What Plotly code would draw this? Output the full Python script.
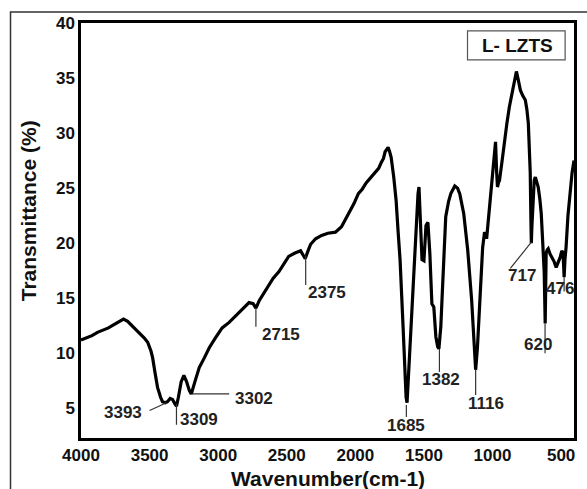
import plotly.graph_objects as go

# Spectrum (wavenumber cm-1, transmittance %)
wavenumber = [4000, 3960, 3920, 3880, 3840, 3800, 3760, 3720, 3690, 3660, 3623, 3580, 3540, 3514,
              3490, 3478, 3460, 3442, 3420, 3406, 3385, 3370, 3350, 3333, 3315, 3304, 3290, 3270,
              3250, 3230, 3210, 3196, 3170, 3138, 3100, 3065, 3020, 2971, 2920, 2870, 2820, 2775,
              2745, 2725, 2700, 2652, 2600, 2558, 2520, 2486, 2440, 2399, 2380, 2365, 2345, 2326,
              2290, 2246, 2200, 2145, 2101, 2070, 2036, 2010, 1978, 1950, 1920, 1890, 1855, 1830,
              1812, 1795, 1783, 1770, 1761, 1750, 1739, 1720, 1703, 1688, 1674, 1652, 1640, 1630,
              1623, 1615, 1594, 1580, 1565, 1551, 1543, 1536, 1529, 1521, 1514, 1500, 1492, 1485,
              1471, 1464, 1457, 1442, 1428, 1413, 1400, 1391, 1377, 1366, 1355, 1341, 1320, 1304,
              1275, 1255, 1239, 1210, 1181, 1152, 1130, 1123, 1110, 1094, 1072, 1058, 1050, 1043,
              1022, 1000, 990, 978, 970, 964, 956, 949, 930, 913, 895, 877, 860, 841, 833, 826,
              815, 797, 780, 761, 750, 739, 730, 725, 720, 717, 713, 710, 703, 696, 688, 677, 667,
              655, 645, 635, 623, 616, 612, 609, 601, 594, 580, 565, 550, 536, 520, 507, 495, 486,
              481, 478, 472, 464, 450, 435, 420, 406]
transmittance = [11.2, 11.4, 11.6, 11.9, 12.1, 12.3, 12.6, 12.9, 13.1, 12.9, 12.4, 11.9, 11.4, 11.0,
                 10.2, 9.6, 8.2, 6.9, 6.0, 5.6, 5.5, 5.6, 5.9, 5.8, 5.4, 5.2, 6.0, 7.4,
                 8.0, 7.4, 6.6, 6.3, 7.4, 8.7, 9.6, 10.5, 11.4, 12.3, 12.8, 13.4, 14.0, 14.6,
                 14.5, 14.1, 14.8, 15.7, 16.8, 17.4, 18.1, 18.8, 19.1, 19.3, 18.9, 18.6, 19.3, 19.9,
                 20.4, 20.7, 20.9, 21.0, 21.5, 22.2, 23.0, 23.6, 24.5, 24.9, 25.5, 25.9, 26.4, 26.8,
                 27.3, 27.7, 28.3, 28.6, 28.7, 28.3, 27.8, 26.0, 23.9, 21.0, 18.5, 12.4, 8.5, 6.0,
                 5.5, 7.5, 12.4, 16.0, 19.6, 23.4, 24.5, 25.1, 22.4, 20.0, 18.5, 18.4, 20.0, 21.6,
                 21.9, 20.8, 19.1, 14.5, 14.2, 11.5, 10.6, 10.4, 12.4, 15.5, 18.5, 22.4, 23.8, 24.5,
                 25.2, 25.0, 24.5, 22.7, 19.4, 14.8, 10.0, 8.5, 10.5, 14.2, 19.6, 21.0, 20.8, 20.4,
                 23.3, 26.4, 27.5, 29.2, 26.5, 25.1, 25.5, 25.7, 27.5, 29.4, 30.9, 32.4, 33.6, 34.8, 35.3, 35.6,
                 35.0, 33.9, 33.4, 33.0, 32.2, 30.9, 28.0, 26.4, 22.0, 20.0, 21.5, 22.4, 24.5, 25.7, 26.0, 25.6, 25.1,
                 24.0, 22.7, 20.3, 17.3, 12.7, 16.0, 19.1, 19.4, 19.5, 19.0, 18.7, 18.3, 17.8, 18.3, 18.7, 19.3, 19.1,
                 17.8, 16.9, 18.5, 19.6, 22.5, 24.8, 26.4, 27.5]

# Peak labels: text, leader line (x0, y0, x1, y1), label position (x, y)
peak_text = ["3393", "3309", "3302", "2715", "2375", "1685", "1382", "1116", "717", "620", "476"]
leader_lines = [(3500, 4.8, 3377, 5.5), (3304, 5.4, 3304, 3.5), (3188, 6.3, 2920, 6.3),
                (2725, 14.1, 2725, 12.4), (2362, 18.9, 2362, 16.2), (1628, 5.3, 1628, 4.2),
                (1387, 10.4, 1387, 8.3), (1123, 8.5, 1123, 6.2), (717, 20.1, 870, 17.7),
                (617, 12.7, 617, 10.0), (478, 16.9, 478, 15.6)]
label_pos = [(3696, 4.6), (3138, 4.0), (2739, 5.9), (2543, 11.7), (2210, 15.5), (1628, 3.4),
             (1373, 7.6), (1051, 5.4), (783, 17.1), (672, 10.8), (505, 15.9)]

FONT = "Liberation Sans, Arial, sans-serif"

fig = go.Figure()
fig.add_trace(go.Scatter(x=wavenumber, y=transmittance, mode="lines",
                         line=dict(color="black", width=3.2), showlegend=False))

for (x0, y0, x1, y1) in leader_lines:
    fig.add_shape(type="line", xref="x", yref="y", x0=x0, y0=y0, x1=x1, y1=y1,
                  line=dict(color="#333333", width=1.2))
for t, (lx, ly) in zip(peak_text, label_pos):
    fig.add_annotation(x=lx, y=ly, xref="x", yref="y", text=t, showarrow=False,
                       xanchor="center", yanchor="middle",
                       font=dict(family=FONT, size=17, color="#222222", weight="bold"))

# sample label box
fig.add_shape(type="rect", xref="paper", yref="paper", x0=0.784, x1=0.982, y0=0.911, y1=0.981,
              line=dict(color="#555555", width=1.2), fillcolor="white")
fig.add_annotation(xref="paper", yref="paper", x=0.885, y=0.946, text="L- LZTS", showarrow=False,
                   xanchor="center", yanchor="middle",
                   font=dict(family=FONT, size=19, color="#111111", weight="bold"))

# outer frame
fig.add_shape(type="rect", xref="paper", yref="paper", x0=-0.143, x1=1.2, y0=-0.3, y1=1.0265,
              line=dict(color="#333333", width=1.5), layer="below")

# axis titles
fig.add_annotation(xref="paper", yref="paper", x=0.5, y=-0.097, xanchor="center", yanchor="middle",
                   text="Wavenumber(cm-1)", showarrow=False,
                   font=dict(family=FONT, size=21, color="#111111", weight="bold"))
fig.add_annotation(xref="paper", yref="paper", x=-0.105, y=0.547, xanchor="center", yanchor="middle",
                   text="Transmittance (%)", showarrow=False, textangle=-90,
                   font=dict(family=FONT, size=21, color="#111111", weight="bold"))

fig.update_layout(
    width=587, height=489,
    margin=dict(l=81, r=10, t=23, b=51),
    paper_bgcolor="white", plot_bgcolor="white",
    xaxis=dict(range=[4000, 406], tickvals=[4000, 3500, 3000, 2500, 2000, 1500, 1000, 500],
               showgrid=False, zeroline=False, showline=True, linecolor="black", linewidth=2.5,
               mirror=True, ticks="", tickfont=dict(family=FONT, size=17, color="#111111", weight="bold")),
    yaxis=dict(range=[2.3, 40], tickvals=[5, 10, 15, 20, 25, 30, 35, 40],
               showgrid=False, zeroline=False, showline=True, linecolor="black", linewidth=2.5,
               mirror=True, ticks="", tickfont=dict(family=FONT, size=17, color="#111111", weight="bold")),
)

fig.write_html("out.html")
